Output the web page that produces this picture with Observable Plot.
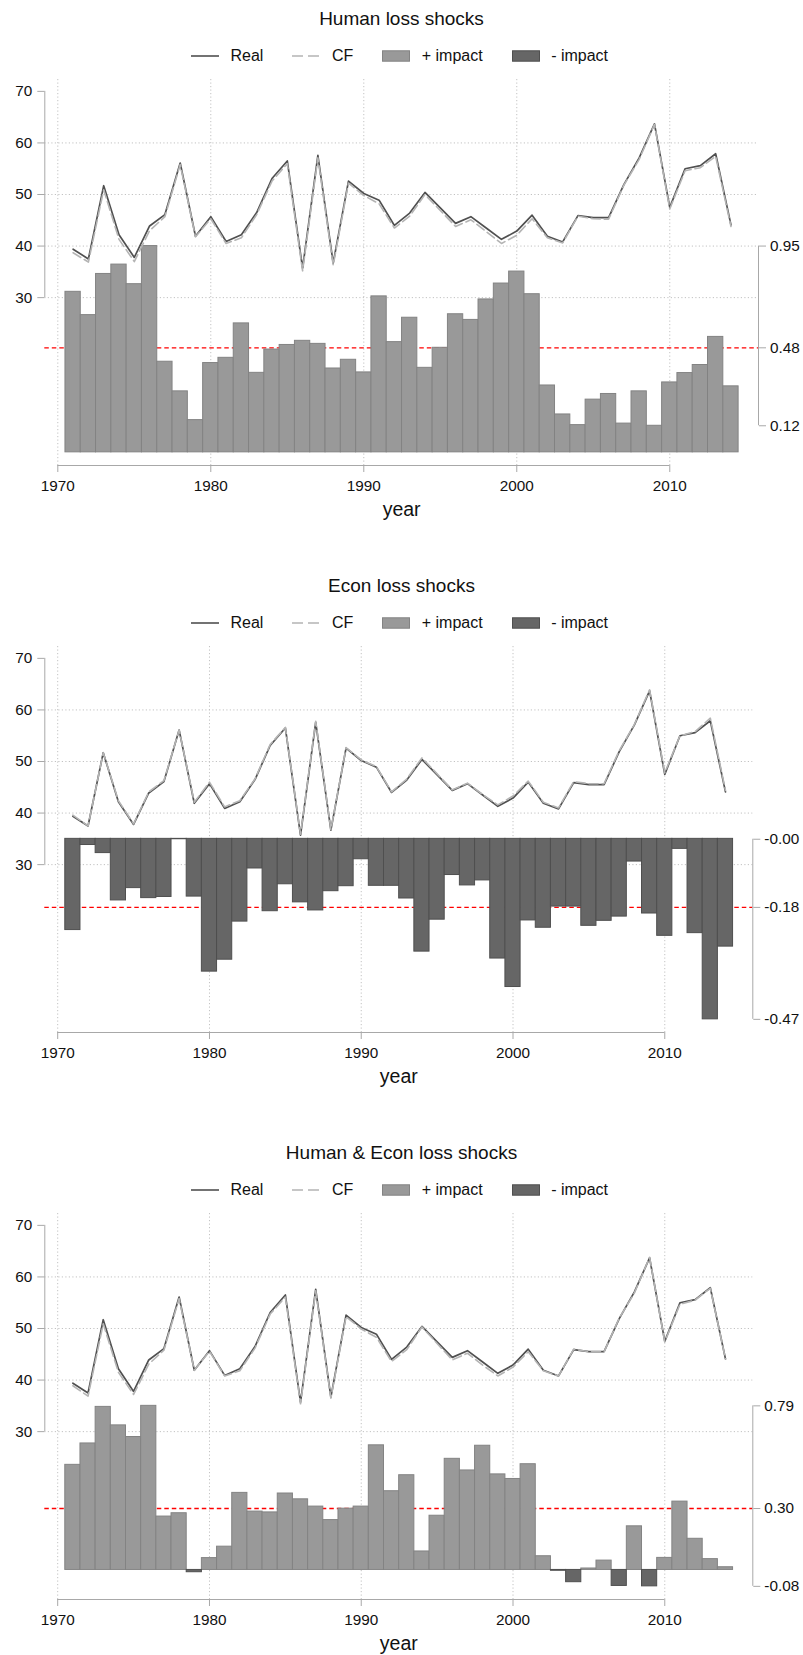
<!DOCTYPE html>
<html>
<head>
<meta charset="utf-8">
<script src="https://cdn.jsdelivr.net/npm/d3@7"></script>
<script src="https://cdn.jsdelivr.net/npm/@observablehq/plot@0.6"></script>
<style>
html,body{margin:0;padding:0;width:803px;height:1655px;overflow:hidden;background:#fff;font-family:"Liberation Sans",Arial,sans-serif;}
.panel{position:absolute;left:0;width:803px;height:567px;}
.title{position:absolute;left:0;width:803px;top:7px;text-align:center;font-size:19px;line-height:23px;color:#111;}
.legend{position:absolute;left:0;width:799px;top:46px;height:20px;display:flex;justify-content:center;align-items:center;font-size:16px;color:#111;}
.item{display:flex;align-items:center;margin:0 14.5px;white-space:nowrap;}
.item svg{margin-right:11.5px;display:block;}
.chart{position:absolute;left:0;top:70px;}
</style>
</head>
<body>
<div id="root"></div>
<script>
// ---- data ----
const years = [1971,1972,1973,1974,1975,1976,1977,1978,1979,1980,1981,1982,1983,1984,1985,1986,1987,1988,1989,1990,1991,1992,1993,1994,1995,1996,1997,1998,1999,2000,2001,2002,2003,2004,2005,2006,2007,2008,2009,2010,2011,2012,2013,2014];

const realValues = [39.4,37.5,51.7,42.2,37.8,43.9,46.1,56.1,41.9,45.7,40.9,42.2,46.5,53.1,56.5,35.7,57.6,36.7,52.6,50.2,48.9,44.0,46.4,50.4,47.4,44.4,45.7,43.5,41.3,42.9,46.0,41.9,40.8,45.9,45.5,45.5,51.9,57.1,63.7,47.5,55.0,55.6,57.9,44.1];

const cfHuman = [38.7,36.9,50.9,41.3,37.0,43.0,45.7,55.8,41.8,45.3,40.5,41.6,46.1,52.6,56.0,35.2,57.1,36.3,52.2,49.8,48.2,43.5,45.8,50.0,46.9,43.8,45.1,42.8,40.5,42.1,45.3,41.6,40.6,45.8,45.3,45.2,51.8,56.8,63.6,47.2,54.6,55.2,57.4,43.8];
const impactHuman = [0.737,0.630,0.819,0.862,0.772,0.947,0.416,0.280,0.148,0.410,0.434,0.592,0.365,0.472,0.493,0.512,0.498,0.385,0.425,0.367,0.716,0.506,0.618,0.388,0.480,0.634,0.608,0.702,0.775,0.830,0.726,0.307,0.174,0.125,0.242,0.268,0.132,0.280,0.122,0.321,0.364,0.401,0.530,0.303];

const cfEcon = [39.6,37.5,51.7,42.4,37.9,44.1,46.3,56.1,42.1,46.0,41.2,42.4,46.6,53.3,56.6,35.9,57.8,36.8,52.7,50.3,49.0,44.1,46.6,50.7,47.6,44.5,45.8,43.6,41.6,43.3,46.2,42.1,41.0,46.1,45.7,45.7,52.1,57.2,63.9,47.8,55.0,55.8,58.4,44.4];
const impactEcon = [-0.237,-0.016,-0.037,-0.160,-0.128,-0.154,-0.151,-0.001,-0.150,-0.345,-0.314,-0.215,-0.077,-0.188,-0.118,-0.165,-0.186,-0.136,-0.123,-0.053,-0.122,-0.122,-0.155,-0.293,-0.210,-0.094,-0.121,-0.108,-0.311,-0.385,-0.212,-0.231,-0.176,-0.176,-0.226,-0.213,-0.202,-0.059,-0.194,-0.252,-0.026,-0.245,-0.469,-0.280];

const cfBoth = [38.9,36.9,50.9,41.5,37.2,43.1,45.8,55.8,41.9,45.6,40.8,41.8,46.2,52.8,56.1,35.4,57.3,36.5,52.3,49.9,48.3,43.6,45.9,50.3,47.1,43.9,45.2,42.9,40.8,42.5,45.5,41.8,40.8,46.0,45.5,45.5,52.0,56.9,63.8,47.4,54.7,55.5,57.8,44.1];
const impactBoth = [0.506,0.609,0.785,0.696,0.640,0.790,0.257,0.273,-0.011,0.057,0.112,0.371,0.281,0.277,0.368,0.340,0.305,0.240,0.295,0.305,0.600,0.379,0.456,0.089,0.261,0.535,0.479,0.598,0.460,0.438,0.509,0.066,-0.004,-0.059,0.007,0.045,-0.077,0.210,-0.079,0.058,0.329,0.150,0.052,0.013];

const titles = ["Human loss shocks", "Econ loss shocks", "Human & Econ loss shocks"];
const legendLabels = ["Real", "CF", "+ impact", "- impact"];
const xTicks = [1970, 1980, 1990, 2000, 2010];
const leftTicks = [30, 40, 50, 60, 70];
const gridTicks = [30, 40, 50, 60];

// ---- layout / style ----
const COLORS = {real: "#505050", cf: "#b4b4b4", pos: "#999999", posStroke: "#838383", neg: "#666666", negStroke: "#4f4f4f", axis: "#a8a8a8", grid: "#c2c2c2", text: "#111111"};
const XDOM = [1969.15, 2015.8];
const YDOM = [-2.55, 72.3];

const panels = [
  {title: titles[0], cf: cfHuman, impact: impactHuman, span: [0, 40], marginRight: 45, top: 0},
  {title: titles[1], cf: cfEcon, impact: impactEcon, span: [0, 35], marginRight: 50.7, top: 567},
  {title: titles[2], cf: cfBoth, impact: impactBoth, span: [0, 35], marginRight: 50.7, top: 1134}
];

function legendSymbol(kind) {
  const ns = "http://www.w3.org/2000/svg";
  const s = document.createElementNS(ns, "svg");
  s.setAttribute("width", 28); s.setAttribute("height", 12);
  if (kind === 0 || kind === 1) {
    const l = document.createElementNS(ns, "line");
    l.setAttribute("x1", 0); l.setAttribute("x2", 28); l.setAttribute("y1", 6); l.setAttribute("y2", 6);
    l.setAttribute("stroke", kind === 0 ? COLORS.real : COLORS.cf);
    l.setAttribute("stroke-width", 1.6);
    if (kind === 1) l.setAttribute("stroke-dasharray", "11,5");
    s.appendChild(l);
  } else {
    const r = document.createElementNS(ns, "rect");
    r.setAttribute("x", 0.5); r.setAttribute("y", 0.8); r.setAttribute("width", 27); r.setAttribute("height", 10.4);
    r.setAttribute("fill", kind === 2 ? COLORS.pos : COLORS.neg);
    r.setAttribute("stroke", kind === 2 ? COLORS.posStroke : COLORS.negStroke);
    s.appendChild(r);
  }
  return s;
}

const root = document.getElementById("root");

for (const cfg of panels) {
  const div = document.createElement("div");
  div.className = "panel";
  div.style.top = cfg.top + "px";

  const t = document.createElement("div");
  t.className = "title";
  t.textContent = cfg.title;
  div.appendChild(t);

  const lg = document.createElement("div");
  lg.className = "legend";
  legendLabels.forEach((lab, k) => {
    const it = document.createElement("div");
    it.className = "item";
    it.appendChild(legendSymbol(k));
    const sp = document.createElement("span");
    sp.textContent = lab;
    it.appendChild(sp);
    lg.appendChild(it);
  });
  div.appendChild(lg);

  const rows = years.map((year, i) => ({year, real: realValues[i], cf: cfg.cf[i], impact: cfg.impact[i]}));
  const [mn, mx] = d3.extent(cfg.impact);
  const mean = d3.mean(cfg.impact);
  const toLeft = d3.scaleLinear().domain([Math.min(0, mn), Math.max(0, mx)]).range(cfg.span);
  const rightTicks = [mn, mean, mx];

  const barBase = {
    x1: d => d.year - 0.5,
    x2: d => d.year + 0.5,
    y1: () => toLeft(0),
    y2: d => toLeft(d.impact),
    strokeWidth: 1
  };

  const chart = Plot.plot({
    width: 803,
    height: 460,
    marginTop: 9,
    marginBottom: 65,
    marginLeft: 44.3,
    marginRight: cfg.marginRight,
    x: {domain: XDOM},
    y: {domain: YDOM},
    style: {fontFamily: '"Liberation Sans", Arial, sans-serif', fontSize: "15px", color: COLORS.text, background: "transparent", overflow: "visible"},
    marks: [
      Plot.gridY(gridTicks, {stroke: COLORS.grid, strokeOpacity: 1, strokeDasharray: "1.2,2.3"}),
      Plot.gridX(xTicks, {stroke: COLORS.grid, strokeOpacity: 1, strokeDasharray: "1.2,2.3"}),
      Plot.ruleY([mean], {y: d => toLeft(d), stroke: "#ff0000", strokeWidth: 1.3, strokeDasharray: "4.5,3"}),
      Plot.rectY(rows.filter(d => d.impact >= 0), {...barBase, fill: COLORS.pos, stroke: COLORS.posStroke}),
      Plot.rectY(rows.filter(d => d.impact < 0), {...barBase, fill: COLORS.neg, stroke: COLORS.negStroke}),
      Plot.lineY(rows, {x: "year", y: "real", stroke: COLORS.real, strokeWidth: 1.7}),
      Plot.lineY(rows, {x: "year", y: "cf", stroke: COLORS.cf, strokeWidth: 1.6, strokeDasharray: "9,4"}),
      Plot.ruleX([XDOM[0]], {y1: leftTicks[0], y2: leftTicks[leftTicks.length - 1], stroke: COLORS.axis}),
      Plot.axisY(leftTicks, {anchor: "left", tickSize: 7, tickPadding: 5.5, stroke: COLORS.axis, fill: COLORS.text, fontSize: 15.3, label: null, tickFormat: d => String(d)}),
      Plot.ruleX([XDOM[1]], {y1: toLeft(mn), y2: toLeft(mx), stroke: COLORS.axis}),
      Plot.axisY(rightTicks.map(d => toLeft(d)), {anchor: "right", tickSize: 7, tickPadding: 4.5, stroke: COLORS.axis, fill: COLORS.text, fontSize: 15.3, label: null, tickFormat: d => toLeft.invert(d).toFixed(2)}),
      Plot.ruleY([YDOM[0]], {x1: xTicks[0], x2: xTicks[xTicks.length - 1], stroke: COLORS.axis}),
      Plot.axisX(xTicks, {anchor: "bottom", tickSize: 7, tickPadding: 8, stroke: COLORS.axis, fill: COLORS.text, fontSize: 15.3, label: null, tickFormat: d => String(d)}),
      Plot.text(["year"], {text: d => d, frameAnchor: "bottom", dy: 50, fontSize: 19.5, fill: COLORS.text})
    ]
  });
  chart.classList.add("chart");
  div.appendChild(chart);
  root.appendChild(div);
}
</script>
</body>
</html>
